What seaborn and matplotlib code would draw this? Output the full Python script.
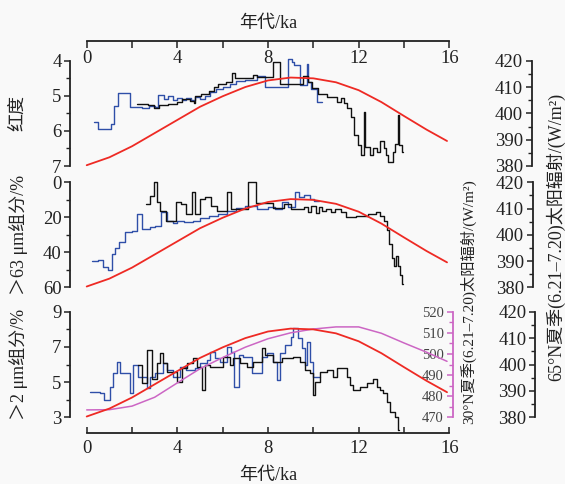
import matplotlib
matplotlib.use("Agg")
import matplotlib.pyplot as plt
from matplotlib.ticker import MultipleLocator, FixedLocator, FuncFormatter
import seaborn as sns

sns.set_theme(style="ticks")
plt.rcParams["font.family"] = ["Liberation Serif", "Noto Sans CJK SC"]
plt.rcParams["axes.unicode_minus"] = False

# ---------------- data ----------------
# 65°N summer insolation (W/m^2)
insol_age = [0, 1, 2, 3, 4, 5, 6, 7, 8, 9, 10, 11, 12, 13, 14, 15, 15.9]
insol_65n = [380.3, 383.3, 387.5, 392.5, 397.5, 402.5, 406.5, 410.0, 412.5,
             413.6, 413.3, 411.8, 408.8, 404.3, 399.0, 393.8, 389.5]
# 30°N summer insolation (W/m^2)
insol_30n = [473.5, 473.6, 475.3, 479.5, 486.3, 493.0, 498.3, 503.2, 507.2,
             510.0, 511.8, 512.8, 512.8, 509.8, 505.2, 500.8, 496.5]

# redness: section edges (ka) and values
red_blue_age = [0.32, 0.51, 1.06, 1.22, 1.40, 1.91, 2.45, 2.75, 3.00, 3.16, 3.40,
                3.60, 3.80, 3.97, 4.20, 4.40, 4.60, 4.80, 5.00, 5.20, 5.44, 5.70,
                6.00, 6.32, 6.60, 7.00, 7.50, 7.87, 8.55, 8.90, 9.05, 9.15, 9.42,
                9.70, 9.78, 9.90, 10.15, 10.37]
red_blue_val = [5.74, 5.95, 5.80, 5.30, 4.93, 5.32, 5.35, 5.28, 5.33, 4.97, 5.08,
                5.00, 5.12, 5.05, 5.13, 5.06, 5.12, 5.03, 5.10, 5.00, 4.90, 4.80,
                4.74, 4.66, 4.58, 4.55, 4.43, 4.76, 4.74, 3.95, 4.05, 4.12, 4.70,
                4.10, 4.60, 4.80, 5.17]
red_black_age = [2.20, 2.70, 2.95, 3.20, 3.60, 3.97, 4.20, 4.55, 4.75, 4.80, 5.05,
                 5.40, 5.60, 5.80, 6.15, 6.40, 6.55, 7.35, 7.50, 8.24, 8.53, 9.56,
                 9.78, 9.95, 10.20, 10.60, 11.05, 11.20, 11.35, 11.50, 11.65, 11.80,
                 11.95, 12.10, 12.22, 12.30, 12.50, 12.65, 12.80, 12.95, 13.10,
                 13.20, 13.30, 13.50, 13.60, 13.72, 13.78, 13.90, 13.95]
red_black_val = [5.23, 5.25, 5.36, 5.26, 5.22, 5.18, 5.10, 5.15, 5.20, 5.00, 4.95,
                 4.85, 4.74, 4.67, 4.60, 4.36, 4.50, 4.42, 4.46, 4.05, 4.67, 4.43,
                 4.62, 4.79, 4.95, 5.03, 5.17, 5.05, 5.20, 5.36, 5.60, 6.12, 6.40,
                 6.69, 5.45, 6.45, 6.69, 6.50, 6.60, 6.30, 6.50, 6.70, 6.88, 6.60,
                 6.36, 5.55, 6.40, 6.60]

# >63 μm fraction (%)
sand_blue_age = [0.24, 0.48, 0.72, 0.95, 1.10, 1.27, 1.43, 1.67, 2.00, 2.20, 2.46,
                 2.80, 3.00, 3.30, 3.55, 3.80, 4.00, 4.30, 4.70, 5.00, 5.40, 5.80,
                 6.20, 6.60, 7.00, 7.50, 8.00, 8.30, 8.60, 8.90, 9.20, 9.35, 9.60,
                 9.85, 10.05, 10.25]
sand_blue_val = [45.1, 44.4, 48.6, 50.0, 41.0, 37.5, 34.3, 28.6, 28.0, 18.1, 26.5,
                 25.5, 25.0, 17.1, 21.9, 23.0, 21.9, 22.5, 21.9, 20.5, 19.0, 18.0,
                 16.2, 14.5, 13.3, 15.0, 14.0, 15.5, 11.5, 14.0, 5.7, 8.5, 7.0,
                 9.5, 10.5]
sand_black_age = [2.62, 2.78, 2.95, 3.12, 3.25, 3.50, 3.95, 4.15, 4.40, 4.65, 4.80,
                  5.00, 5.20, 5.50, 5.75, 6.20, 6.35, 6.60, 7.10, 7.45, 8.20, 8.70,
                  9.00, 9.60, 9.75, 9.90, 10.10, 10.25, 10.40, 10.55, 10.80, 10.95,
                  11.20, 11.45, 11.90, 12.40, 12.75, 12.95, 13.10, 13.25, 13.35,
                  13.45, 13.55, 13.65, 13.75, 13.82, 13.90, 13.95]
sand_black_val = [12.4, 7.6, 0.0, 11.0, 16.2, 21.9, 11.4, 12.4, 18.1, 5.7, 18.1,
                  9.5, 8.5, 13.3, 16.2, 5.7, 15.5, 15.0, 0.0, 12.0, 14.5, 12.4,
                  15.2, 14.0, 17.0, 13.8, 17.5, 14.0, 16.5, 15.0, 17.0, 15.2,
                  17.0, 20.0, 19.0, 18.0, 17.1, 19.0, 22.0, 27.0, 35.0, 43.0,
                  48.0, 42.0, 47.6, 53.0, 58.0]

# >2 μm fraction (%)
silt_blue_age = [0.15, 0.60, 0.75, 1.03, 1.18, 1.32, 1.47, 1.90, 2.06, 2.28, 2.65,
                 2.80, 3.00, 3.38, 3.53, 3.80, 4.10, 4.40, 4.78, 5.00, 5.30, 5.44,
                 5.65, 5.90, 6.20, 6.35, 6.50, 6.70, 6.90, 7.28, 7.72, 7.94, 8.24,
                 8.40, 8.53, 8.75, 9.00, 9.12, 9.34, 9.49, 9.63, 9.70, 9.85, 10.00,
                 10.30]
silt_blue_val = [4.42, 4.36, 3.98, 4.74, 5.50, 6.12, 5.50, 4.36, 5.97, 5.30, 4.64,
                 5.30, 5.50, 6.06, 5.70, 5.30, 5.87, 5.70, 5.80, 6.06, 6.25, 6.73,
                 6.35, 6.16, 7.01, 6.73, 4.74, 6.54, 6.44, 5.50, 6.44, 6.63, 6.16,
                 5.12, 6.63, 7.10, 7.58, 8.05, 7.48, 6.92, 5.97, 7.30, 6.16, 5.30]
silt_black_age = [2.28, 2.43, 2.65, 2.87, 3.10, 3.24, 3.38, 3.53, 3.97, 4.19, 4.41,
                  4.71, 4.85, 5.07, 5.22, 5.44, 6.03, 6.32, 6.47, 6.76, 7.06, 7.35,
                  7.72, 7.87, 8.24, 8.60, 9.12, 9.41, 9.63, 9.85, 10.00, 10.07,
                  10.29, 10.59, 10.88, 11.03, 11.47, 11.62, 11.76, 12.06, 12.35,
                  12.65, 12.79, 12.94, 13.09, 13.24, 13.38, 13.60, 13.74, 13.80]
silt_black_val = [5.97, 4.93, 6.82, 5.20, 6.06, 6.63, 6.06, 5.60, 5.00, 5.78, 6.06,
                  6.35, 5.87, 4.55, 5.97, 5.87, 6.44, 5.97, 6.35, 6.06, 5.87, 6.16,
                  6.92, 6.54, 6.16, 6.35, 6.44, 6.16, 5.69, 5.50, 4.26, 5.00, 5.60,
                  5.69, 5.30, 5.78, 5.30, 4.83, 4.55, 4.74, 4.93, 5.20, 4.74, 4.55,
                  4.36, 3.89, 3.32, 3.03, 2.30]

age_ticks = [0, 4, 8, 12, 16]

# ---------------- style ----------------
BG = "#f9f9f9"
BLUE = "#2f4fa8"
BLACK = "#111111"
RED = "#ee2a24"
MAGENTA = "#cc66c4"
INK = "#222222"
W, H = 565, 484
X0, X1 = 86.7, 449.3   # pixel columns of 0 ka and 16 ka
PT = 72 / 100          # points per pixel

fig = plt.figure(figsize=(W / 100, H / 100), dpi=100, facecolor=BG)


def panel(top, bottom):
    ax = fig.add_axes([X0 / W, 1 - bottom / H, (X1 - X0) / W, (bottom - top) / H])
    ax.set_facecolor("none")
    ax.set_xlim(0, 16)
    for s in ("top", "right", "bottom"):
        ax.spines[s].set_visible(False)
    ax.spines["left"].set_position(("outward", 16.5 * PT))
    ax.spines["left"].set_linewidth(1.3)
    ax.spines["left"].set_color(INK)
    ax.tick_params(axis="y", which="major", direction="out", length=6.5 * PT,
                   width=1.1, pad=1.5, labelsize=13.5, colors=INK)
    ax.tick_params(axis="y", which="minor", direction="out", length=4 * PT,
                   width=1.0, colors=INK)
    ax.xaxis.set_major_locator(MultipleLocator(2))
    ax.xaxis.set_major_formatter(
        FuncFormatter(lambda v, p: f"{v:g}" if round(v) in age_ticks else ""))
    return ax


def right_axis(ax, lo, hi, major, minor, spine_px, color, labelcolor, size):
    ar = ax.twinx()
    ar.set_facecolor("none")
    ar.set_ylim(lo, hi)
    for s in ("top", "right", "bottom"):
        ar.spines[s].set_visible(False)
    ar.yaxis.tick_left()
    ar.spines["left"].set_visible(True)
    ar.spines["left"].set_position(("axes", (spine_px - X0) / (X1 - X0)))
    ar.spines["left"].set_color(color)
    ar.spines["left"].set_linewidth(1.3)
    ar.yaxis.set_major_locator(MultipleLocator(major))
    ar.yaxis.set_minor_locator(MultipleLocator(minor))
    ar.tick_params(axis="y", which="major", direction="out", length=6.5 * PT,
                   width=1.1, pad=1.5, labelsize=size, color=color,
                   labelcolor=labelcolor)
    ar.tick_params(axis="y", which="minor", direction="out", length=4 * PT,
                   width=1.0, color=color)
    return ar


def steps(ax, ages, vals, color):
    xs = list(ages)
    ys = list(vals) + [vals[-1]]
    sns.lineplot(x=xs, y=ys, ax=ax, color=color, lw=1.0, drawstyle="steps-post",
                 estimator=None, sort=False, legend=False, clip_on=False)


def curve(ax, ages, vals, color, lw=1.3):
    sns.lineplot(x=ages, y=vals, ax=ax, color=color, lw=lw, estimator=None,
                 sort=False, legend=False, clip_on=False)


# ---- panel 1: redness ----
ax1 = panel(60.7, 166.0)
ax1.set_ylim(7, 4)
ax1.yaxis.set_major_locator(MultipleLocator(1))
ax1.yaxis.set_minor_locator(MultipleLocator(0.5))
ax1.spines["bottom"].set_visible(True)
ax1.spines["bottom"].set_position(("axes", (166.0 - 41.0) / (166.0 - 60.7)))
ax1.spines["bottom"].set_linewidth(1.3)
ax1.spines["bottom"].set_color(INK)
ax1.tick_params(axis="x", direction="out", length=6.5 * PT, width=1.1, pad=2,
                labelsize=13.5, colors=INK)
steps(ax1, red_blue_age, red_blue_val, BLUE)
steps(ax1, red_black_age, red_black_val, BLACK)
r1 = right_axis(ax1, 380, 420, 10, 5, 531.7, INK, INK, 13.5)
curve(r1, insol_age, insol_65n, RED)

# ---- panel 2: >63 μm ----
ax2 = panel(182.3, 287.3)
ax2.set_ylim(60, 0)
ax2.yaxis.set_major_locator(MultipleLocator(20))
ax2.yaxis.set_minor_locator(MultipleLocator(10))
ax2.tick_params(axis="x", bottom=False, labelbottom=False)
steps(ax2, sand_blue_age, sand_blue_val, BLUE)
steps(ax2, sand_black_age, sand_black_val, BLACK)
r2 = right_axis(ax2, 380, 420, 10, 5, 532.7, INK, INK, 13.5)
curve(r2, insol_age, insol_65n, RED)

# ---- panel 3: >2 μm ----
ax3 = panel(311.7, 417.3)
ax3.set_ylim(3, 9)
ax3.yaxis.set_major_locator(FixedLocator([3, 5, 7, 9]))
ax3.yaxis.set_minor_locator(FixedLocator([4, 6, 8]))
ax3.spines["bottom"].set_visible(True)
ax3.spines["bottom"].set_position(("outward", 16 * PT))
ax3.spines["bottom"].set_linewidth(1.3)
ax3.spines["bottom"].set_color(INK)
ax3.tick_params(axis="x", direction="in", length=6.5 * PT, width=1.1, pad=5,
                labelsize=13.5, colors=INK)
steps(ax3, silt_blue_age, silt_blue_val, BLUE)
steps(ax3, silt_black_age, silt_black_val, BLACK)
m3 = right_axis(ax3, 470, 520, 10, 5, 452.5, MAGENTA, "#444444", 10.5)
curve(m3, insol_age, insol_30n, MAGENTA, lw=1.1)
r3 = right_axis(ax3, 380, 420, 10, 5, 535.0, INK, INK, 13.5)
curve(r3, insol_age, insol_65n, RED)

for a in (ax1, ax2, ax3, r1, r2, r3, m3):
    a.set_xlabel("")
    a.set_ylabel("")

# ---------------- labels ----------------
def ftext(x, y, s, size, rot=0, color=INK):
    fig.text(x / W, 1 - y / H, s, ha="center", va="center", rotation=rot,
             fontsize=size, color=color)

ftext(268, 23, "年代/ka", 13)
ftext(268, 475, "年代/ka", 13)
ftext(18, 113, "红度", 13, 90)
ftext(18, 235, "＞63 μm组分/%", 13, 90)
ftext(18, 364, "＞2 μm组分/%", 13, 90)
ftext(468.3, 302, "30°N夏季(6.21–7.20)太阳辐射/(W/m²)", 11, 90)
ftext(555.5, 237, "65°N夏季(6.21–7.20)太阳辐射/(W/m²)", 13, 90)

fig.savefig("out.png", dpi=100, facecolor=BG)
